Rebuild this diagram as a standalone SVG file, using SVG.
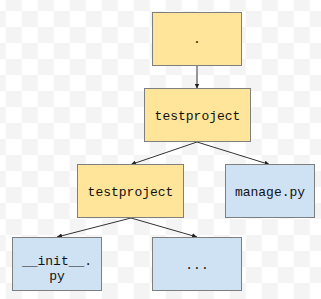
<svg xmlns="http://www.w3.org/2000/svg" width="321" height="299" viewBox="0 0 321 299">
<defs>
<pattern id="chk" x="5.7" y="11" width="32" height="32" patternUnits="userSpaceOnUse">
<rect x="0" y="0" width="32" height="32" fill="#ffffff"/>
<rect x="16" y="0" width="16" height="16" fill="#f4f4f4"/>
<rect x="0" y="16" width="16" height="16" fill="#f4f4f4"/>
</pattern>
<marker id="arr" viewBox="0 0 10 10" refX="10" refY="5" markerWidth="5" markerHeight="5" orient="auto" markerUnits="userSpaceOnUse">
<path d="M0,0 L10,5 L0,10 z" fill="#222"/>
</marker>
</defs>
<style>
.y{fill:#ffe599;stroke:#7f7f7f;stroke-width:1}
.b{fill:#cfe2f3;stroke:#7f7f7f;stroke-width:1}
text{font-family:"Liberation Mono","Courier New",monospace;font-size:13px;fill:#111;text-anchor:middle}
.e{stroke:#333;stroke-width:1;fill:none;marker-end:url(#arr)}
</style>
<rect x="0" y="0" width="321" height="299" fill="url(#chk)"/>
<g id="connectors">
<line class="e" x1="197" y1="66" x2="197" y2="88.5"/>
<line class="e" x1="197" y1="142" x2="131" y2="164.5"/>
<line class="e" x1="197" y1="142" x2="269.5" y2="164.5"/>
<line class="e" x1="131" y1="218" x2="57" y2="237"/>
<line class="e" x1="131" y1="218" x2="197" y2="237"/>
</g>
<g id="root"><rect class="y" x="152.5" y="12.5" width="89" height="53"/><text x="197" y="43">.</text></g>
<g id="testproject1"><rect class="y" x="144.5" y="88.5" width="106" height="53"/><text x="197.5" y="119.5">testproject</text></g>
<g id="testproject2"><rect class="y" x="77.5" y="164.5" width="106" height="53"/><text x="130.5" y="195.5">testproject</text></g>
<g id="manage"><rect class="b" x="225.5" y="164.5" width="89" height="53"/><text x="270" y="195.5">manage.py</text></g>
<g id="init"><rect class="b" x="12.5" y="237.5" width="89" height="53"/><text x="57" y="265">__init__.</text><text x="57" y="280">py</text></g>
<g id="dots"><rect class="b" x="152.5" y="237.5" width="89" height="53"/><text x="197" y="268.5">...</text></g>
</svg>
